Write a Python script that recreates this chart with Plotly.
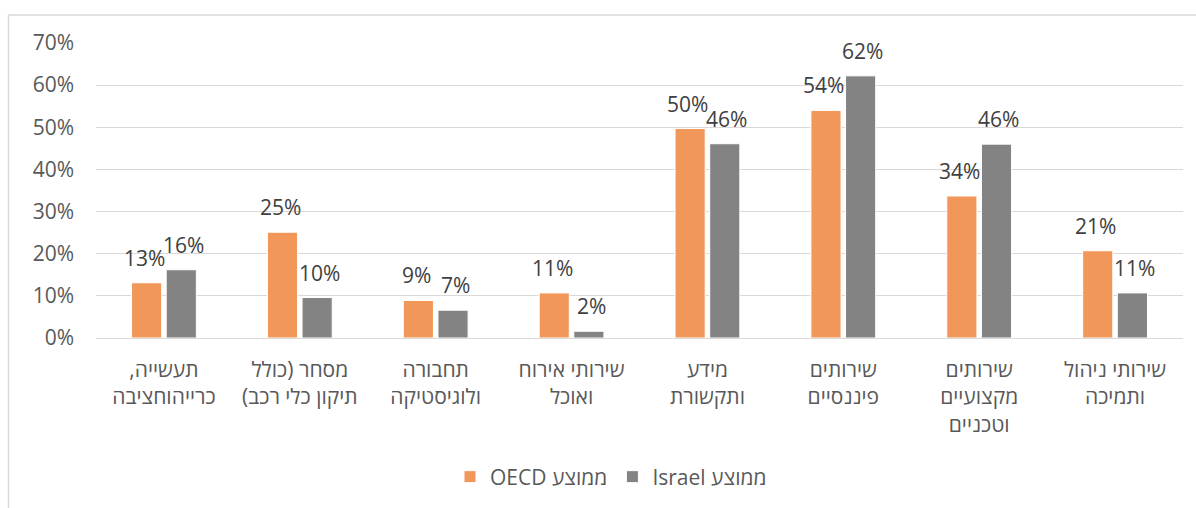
import plotly.graph_objects as go

# Sector names (two/three lines each)
categories = [
    ["תעשייה,", "כרייהוחציבה"],
    ["מסחר (כולל", "תיקון כלי רכב)"],
    ["תחבורה", "ולוגיסטיקה"],
    ["שירותי אירוח", "ואוכל"],
    ["מידע", "ותקשורת"],
    ["שירותים", "פיננסיים"],
    ["שירותים", "מקצועיים", "וטכניים"],
    ["שירותי ניהול", "ותמיכה"],
]

oecd_values = [0.131, 0.251, 0.089, 0.107, 0.497, 0.540, 0.337, 0.207]
israel_values = [0.162, 0.096, 0.066, 0.016, 0.461, 0.622, 0.460, 0.107]

series_names = ["ממוצע OECD", "ממוצע Israel"]
y_ticks = [0, 0.1, 0.2, 0.3, 0.4, 0.5, 0.6, 0.7]

RLE, PDF = "\u202b", "\u202c"


def rtl(s):
    return RLE + s + PDF


x_labels = ["<br>".join(rtl(line) for line in cat) for cat in categories]

ORANGE = "#F1975A"
GRAY = "#838383"
FONT = "Open Sans, Liberation Sans, DejaVu Sans, sans-serif"

W, H = 1196, 508
M = dict(l=96, r=13, t=43, b=169)

fig = go.Figure()
for name, vals, color in [
    (series_names[0], oecd_values, ORANGE),
    (series_names[1], israel_values, GRAY),
]:
    fig.add_trace(
        go.Bar(
            x=x_labels,
            y=vals,
            name=rtl(name),
            marker=dict(color=color, line=dict(color="white", width=1)),
            hoverinfo="skip",
        )
    )

# value labels above each bar
for vals, shift in [(oecd_values, -19.5), (israel_values, 19.5)]:
    for xl, v in zip(x_labels, vals):
        fig.add_annotation(
            x=xl,
            y=v,
            text=f"{v:.0%}",
            showarrow=False,
            xshift=shift,
            yshift=25,
            yanchor="middle",
            font=dict(family=FONT, size=21, color="#404040"),
        )

# outer chart frame
pw = W - M["l"] - M["r"]
ph = H - M["t"] - M["b"]
fig.add_shape(
    type="rect",
    xref="paper",
    yref="paper",
    x0=(8.5 - M["l"]) / pw,
    x1=(W + 5 - M["l"]) / pw,
    y0=-(H + 5 - M["t"] - ph) / ph,
    y1=(H - 15 - M["b"]) / ph,
    line=dict(color="#D9D9D9", width=1.5),
    fillcolor="rgba(0,0,0,0)",
    layer="below",
)

fig.update_layout(
    width=W,
    height=H,
    margin=M,
    paper_bgcolor="white",
    plot_bgcolor="white",
    barmode="group",
    bargap=0.49,
    bargroupgap=0.13,
    font=dict(family=FONT, size=21, color="#595959"),
    showlegend=True,
    legend=dict(
        orientation="h",
        x=(450 - M["l"]) / pw,
        xanchor="left",
        y=-(477 - (H - M["b"])) / ph,
        yanchor="middle",
        font=dict(family=FONT, size=21, color="#595959"),
        itemwidth=30,
    ),
    xaxis=dict(
        showgrid=False,
        showline=False,
        zeroline=False,
        tickfont=dict(family=FONT, size=21, color="#595959"),
        ticks="",
        ticklabelstandoff=17,
    ),
    yaxis=dict(
        range=[0, 0.7],
        tickvals=y_ticks,
        tickformat=".0%",
        showgrid=True,
        gridcolor="#D9D9D9",
        gridwidth=1,
        zeroline=True,
        zerolinecolor="#D9D9D9",
        zerolinewidth=1,
        showline=False,
        ticks="",
        ticklabelstandoff=21,
        tickfont=dict(family=FONT, size=21, color="#595959"),
    ),
)

fig.write_html("out.html")
